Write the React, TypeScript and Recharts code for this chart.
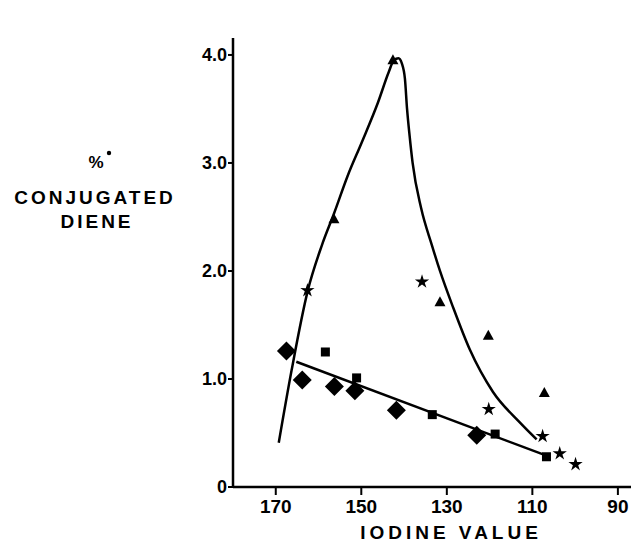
import React from 'react';
import { ComposedChart, Line, Scatter, XAxis, YAxis } from 'recharts';

// Diamonds
const diamondX = [167.5, 163.8, 156.3, 151.5, 141.8, 123.0];
const diamondY = [1.26, 0.99, 0.93, 0.89, 0.71, 0.48];
// Squares
const squareX = [158.4, 151.1, 133.4, 118.7, 106.7];
const squareY = [1.25, 1.01, 0.67, 0.49, 0.28];
// Triangles
const triangleX = [142.6, 156.4, 131.6, 120.3, 107.2];
const triangleY = [3.95, 2.48, 1.71, 1.40, 0.87];
// Stars
const starX = [162.6, 135.8, 120.2, 107.6, 103.6, 99.9];
const starY = [1.82, 1.90, 0.72, 0.47, 0.31, 0.21];
// Peak curve
const curveX = [169.3, 166.3, 162.5, 159.2, 156.4, 153.2, 149.9, 146.1, 143.6, 142.4, 141.3, 140.5, 139.8, 139.3, 138.7, 138.0, 136.0, 133.5, 131.6, 128.5, 124.6, 119.2, 113.0, 109.0];
const curveY = [0.41, 1.08, 1.82, 2.24, 2.53, 2.88, 3.19, 3.56, 3.84, 3.95, 3.97, 3.92, 3.78, 3.5, 3.25, 3.0, 2.58, 2.24, 2.0, 1.66, 1.27, 0.88, 0.6, 0.44];
// Straight fit line
const fitX = [165.2, 106.7];
const fitY = [1.16, 0.29];

const xTicks = [170, 150, 130, 110, 90];
const yTicks = [0, 1, 2, 3, 4];
const yTickLabels = ['0', '1.0', '2.0', '3.0', '4.0'];

const zip = (xs: number[], ys: number[]) => xs.map((x, i) => ({ x, y: ys[i] }));

const diamonds = zip(diamondX, diamondY);
const squares = zip(squareX, squareY);
const triangles = zip(triangleX, triangleY);
const stars = zip(starX, starY);
const curve = zip(curveX, curveY);
const fit = zip(fitX, fitY);

const FONT = '"Liberation Sans", Arial, sans-serif';

const DiamondShape = (p: any) => {
  const { cx, cy } = p;
  const r = 9.5;
  return <polygon points={`${cx},${cy - r} ${cx + r},${cy} ${cx},${cy + r} ${cx - r},${cy}`} fill="#000" />;
};
const SquareShape = (p: any) => {
  const { cx, cy } = p;
  const r = 4.5;
  return <rect x={cx - r} y={cy - r} width={2 * r} height={2 * r} fill="#000" />;
};
const TriangleShape = (p: any) => {
  const { cx, cy } = p;
  const w = 5.5;
  return <polygon points={`${cx},${cy - 6} ${cx + w},${cy + 4} ${cx - w},${cy + 4}`} fill="#000" />;
};
const StarShape = (p: any) => {
  const { cx, cy } = p;
  const R = 7.5, r = 2.8;
  const pts: string[] = [];
  for (let i = 0; i < 10; i++) {
    const a = -Math.PI / 2 + (i * Math.PI) / 5;
    const rad = i % 2 === 0 ? R : r;
    pts.push(`${cx + rad * Math.cos(a)},${cy + rad * Math.sin(a)}`);
  }
  return <polygon points={pts.join(' ')} fill="#000" />;
};

const YLabel = () => (
  <g fontFamily={FONT} fontWeight={700} fill="#000" textAnchor="middle">
    <text x={88} y={160} fontSize={17}>%</text>
    <circle cx={101} cy={145} r={2.2} fill="#000" />
    <text x={87} y={196} fontSize={19} letterSpacing={3}>CONJUGATED</text>
    <text x={89} y={220} fontSize={19} letterSpacing={3}>DIENE</text>
  </g>
);

const XLabel = () => (
  <text x={443} y={531} fontFamily={FONT} fontWeight={700} fontSize={19} letterSpacing={4} textAnchor="middle" fill="#000">
    IODINE VALUE
  </text>
);

export default function App() {
  return (
    <ComposedChart width={631} height={535} margin={{ top: 30, right: 7, bottom: 0, left: 165 }}>
      <XAxis
        type="number"
        dataKey="x"
        domain={[86.7, 180]}
        reversed
        allowDataOverflow
        ticks={xTicks}
        tickSize={8}
        tickMargin={5}
        height={56}
        axisLine={{ stroke: '#000', strokeWidth: 2.5 }}
        tickLine={{ stroke: '#000', strokeWidth: 2 }}
        tick={{ fill: '#000', fontSize: 19, fontWeight: 700, fontFamily: FONT }}
        label={<XLabel />}
      />
      <YAxis
        type="number"
        dataKey="y"
        domain={[0, 4.157]}
        allowDataOverflow
        ticks={yTicks}
        tickFormatter={(v: number) => yTickLabels[yTicks.indexOf(v)]}
        width={60}
        tickSize={5}
        tickMargin={1}
        axisLine={{ stroke: '#000', strokeWidth: 2.5 }}
        tickLine={{ stroke: '#000', strokeWidth: 2 }}
        tick={{ fill: '#000', fontSize: 18, fontWeight: 700, fontFamily: FONT }}
        label={<YLabel />}
      />
      <Line data={curve} dataKey="y" type="monotone" stroke="#000" strokeWidth={2.5} dot={false} isAnimationActive={false} />
      <Line data={fit} dataKey="y" type="linear" stroke="#000" strokeWidth={2.5} dot={false} isAnimationActive={false} />
      <Scatter data={diamonds} dataKey="y" shape={DiamondShape} isAnimationActive={false} />
      <Scatter data={squares} dataKey="y" shape={SquareShape} isAnimationActive={false} />
      <Scatter data={triangles} dataKey="y" shape={TriangleShape} isAnimationActive={false} />
      <Scatter data={stars} dataKey="y" shape={StarShape} isAnimationActive={false} />
    </ComposedChart>
  );
}
